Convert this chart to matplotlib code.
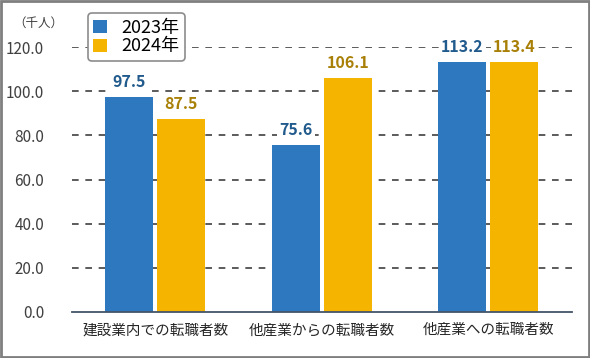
import matplotlib
matplotlib.use("Agg")
import matplotlib.pyplot as plt
from matplotlib.patches import Rectangle
import numpy as np

plt.rcParams['font.family'] = ['Noto Sans CJK JP', 'DejaVu Sans']

categories = ["建設業内での転職者数", "他産業からの転職者数", "他産業への転職者数"]
series_names = ["2023年", "2024年"]
vals_2023 = [97.5, 75.6, 113.2]
vals_2024 = [87.5, 106.1, 113.4]
yticks = [0, 20, 40, 60, 80, 100, 120]

bar_colors = ["#2E78BF", "#F5B400"]
label_colors = ["#215A8C", "#A88008"]

fig = plt.figure(figsize=(5.9, 3.58), dpi=100)
ax = fig.add_axes([0.122, 0.1285, 0.847, 0.740])

x = np.arange(len(categories))
w = 0.288
gap = 0.012
for i, (vals, name) in enumerate(zip([vals_2023, vals_2024], series_names)):
    offs = (-1 if i == 0 else 1) * (w / 2 + gap)
    bars = ax.bar(x + offs, vals, w, color=bar_colors[i], label=name, zorder=3)
    for b, v in zip(bars, vals):
        ax.text(b.get_x() + b.get_width() / 2, v + 3, f"{v:.1f}", ha="center", va="bottom",
                fontsize=11.5, fontweight="bold", color=label_colors[i], zorder=5,
                bbox=dict(boxstyle="square,pad=0.15", fc="white", ec="none"))

ax.set_xlim(-0.5, 2.5)
ax.set_ylim(0, 120)
ax.set_yticks(yticks)
ax.set_yticklabels([f"{t:.1f}" for t in yticks], fontsize=11, color="#404040")
ax.set_xticks(x)
ax.set_xticklabels(categories, fontsize=10.5, color="#262626")
ax.tick_params(axis="both", length=0, pad=8)
ax.tick_params(axis="y", pad=20)
for t in yticks[1:]:
    ax.axhline(t, color="#404040", lw=1.2, ls=(0, (4, 4)), zorder=1)
for s in ["top", "right", "left"]:
    ax.spines[s].set_visible(False)
ax.spines["bottom"].set_color("#44546A")
ax.spines["bottom"].set_linewidth(1.3)
ax.spines["bottom"].set_zorder(4)

fig.text(0.022, 0.935, "（千人）", fontsize=9, color="#404040", ha="left", va="center")

leg = ax.legend(loc="upper left", bbox_to_anchor=(0.032, 1.128), borderaxespad=0,
                fontsize=13, frameon=True, fancybox=True, edgecolor="#8C8C8C", framealpha=1,
                handlelength=0.75, handleheight=0.75, handletextpad=0.8, borderpad=0.3,
                labelspacing=0.05)
leg.get_frame().set_linewidth(1.2)
leg.set_zorder(6)

fig.patches.append(Rectangle((0.002, 0.003), 0.996, 0.994, transform=fig.transFigure,
                             fill=False, ec="#7F7F7F", lw=2))

fig.savefig("out.png", dpi=100)
